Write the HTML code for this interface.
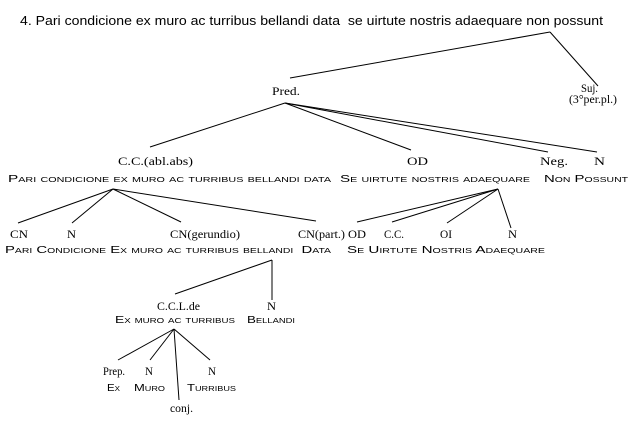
<!DOCTYPE html>
<html><head><meta charset="utf-8"><style>
html,body{margin:0;padding:0;background:#fff;width:640px;height:426px;overflow:hidden}
svg text{fill:#000}
.t{font-family:"Liberation Sans",sans-serif;font-size:13px}
.s{font-family:"Liberation Serif",serif;font-size:12px}
.c{font-family:"Liberation Sans",sans-serif;font-size:10px;font-variant:small-caps}
</style></head><body>
<svg width="640" height="426" viewBox="0 0 640 426" xmlns="http://www.w3.org/2000/svg">
<g stroke="#000" stroke-width="1" fill="none">
<line x1="550" y1="32" x2="290" y2="78"/>
<line x1="550" y1="32" x2="598" y2="86"/>
<line x1="285" y1="103" x2="150" y2="147"/>
<line x1="285" y1="103" x2="411" y2="150"/>
<line x1="285" y1="103" x2="548" y2="152"/>
<line x1="285" y1="103" x2="597" y2="152"/>
<line x1="113" y1="189" x2="18" y2="223"/>
<line x1="113" y1="189" x2="72" y2="223"/>
<line x1="113" y1="189" x2="181" y2="222"/>
<line x1="113" y1="189" x2="316" y2="221"/>
<line x1="498" y1="189" x2="357" y2="222"/>
<line x1="498" y1="189" x2="392" y2="222"/>
<line x1="498" y1="189" x2="447" y2="223"/>
<line x1="498" y1="189" x2="511" y2="228"/>
<line x1="272" y1="260" x2="175" y2="294"/>
<line x1="272" y1="260" x2="272" y2="300"/>
<line x1="174" y1="329" x2="118" y2="360"/>
<line x1="174" y1="329" x2="150" y2="360"/>
<line x1="174" y1="329" x2="179" y2="400"/>
<line x1="174" y1="329" x2="210" y2="360"/>
</g>
<text class="t" x="20" y="25" textLength="583" lengthAdjust="spacingAndGlyphs">4. Pari condicione ex muro ac turribus bellandi data&#160;&#160;se uirtute nostris adaequare non possunt</text>
<text class="s" x="272" y="95" textLength="28" lengthAdjust="spacingAndGlyphs">Pred.</text>
<text class="s" x="581" y="92" textLength="17" lengthAdjust="spacingAndGlyphs">Suj.</text>
<text class="s" x="569" y="103" font-size="10" textLength="48" lengthAdjust="spacingAndGlyphs">(3°per.pl.)</text>
<text class="s" x="118" y="165" textLength="75" lengthAdjust="spacingAndGlyphs">C.C.(abl.abs)</text>
<text class="s" x="407" y="165" textLength="21" lengthAdjust="spacingAndGlyphs">OD</text>
<text class="s" x="540" y="165" textLength="28" lengthAdjust="spacingAndGlyphs">Neg.</text>
<text class="s" x="594" y="165" textLength="11" lengthAdjust="spacingAndGlyphs">N</text>
<text class="c" x="8" y="182" textLength="323" lengthAdjust="spacingAndGlyphs">Pari condicione ex muro ac turribus bellandi data</text>
<text class="c" x="340" y="182" textLength="190" lengthAdjust="spacingAndGlyphs">Se uirtute nostris adaequare</text>
<text class="c" x="544" y="182" textLength="84" lengthAdjust="spacingAndGlyphs">Non Possunt</text>
<text class="s" x="10" y="238" textLength="18" lengthAdjust="spacingAndGlyphs">CN</text>
<text class="s" x="67" y="238" textLength="9" lengthAdjust="spacingAndGlyphs">N</text>
<text class="s" x="170" y="238" textLength="70" lengthAdjust="spacingAndGlyphs">CN(gerundio)</text>
<text class="s" x="298" y="238" textLength="47" lengthAdjust="spacingAndGlyphs">CN(part.)</text>
<text class="s" x="348" y="238" textLength="18" lengthAdjust="spacingAndGlyphs">OD</text>
<text class="s" x="384" y="238" textLength="20" lengthAdjust="spacingAndGlyphs">C.C.</text>
<text class="s" x="440" y="238" textLength="12" lengthAdjust="spacingAndGlyphs">OI</text>
<text class="s" x="508" y="238" textLength="9" lengthAdjust="spacingAndGlyphs">N</text>
<text class="c" x="5" y="253" textLength="326" lengthAdjust="spacingAndGlyphs">Pari Condicione Ex muro ac turribus bellandi&#160;&#160;Data</text>
<text class="c" x="347" y="253" textLength="198" lengthAdjust="spacingAndGlyphs">Se Uirtute Nostris Adaequare</text>
<text class="s" x="157" y="310" textLength="43" lengthAdjust="spacingAndGlyphs">C.C.L.de</text>
<text class="s" x="267" y="310" textLength="9" lengthAdjust="spacingAndGlyphs">N</text>
<text class="c" x="115" y="323" textLength="120" lengthAdjust="spacingAndGlyphs">Ex muro ac turribus</text>
<text class="c" x="247" y="323" textLength="48" lengthAdjust="spacingAndGlyphs">Bellandi</text>
<text class="s" x="103" y="375" textLength="22" lengthAdjust="spacingAndGlyphs">Prep.</text>
<text class="s" x="145" y="375" textLength="8" lengthAdjust="spacingAndGlyphs">N</text>
<text class="s" x="208" y="375" textLength="8" lengthAdjust="spacingAndGlyphs">N</text>
<text class="c" x="107" y="391" textLength="13" lengthAdjust="spacingAndGlyphs">Ex</text>
<text class="c" x="134" y="391" textLength="31" lengthAdjust="spacingAndGlyphs">Muro</text>
<text class="c" x="187" y="391" textLength="49" lengthAdjust="spacingAndGlyphs">Turribus</text>
<text class="s" x="170" y="412" textLength="23" lengthAdjust="spacingAndGlyphs">conj.</text>
</svg>
</body></html>
